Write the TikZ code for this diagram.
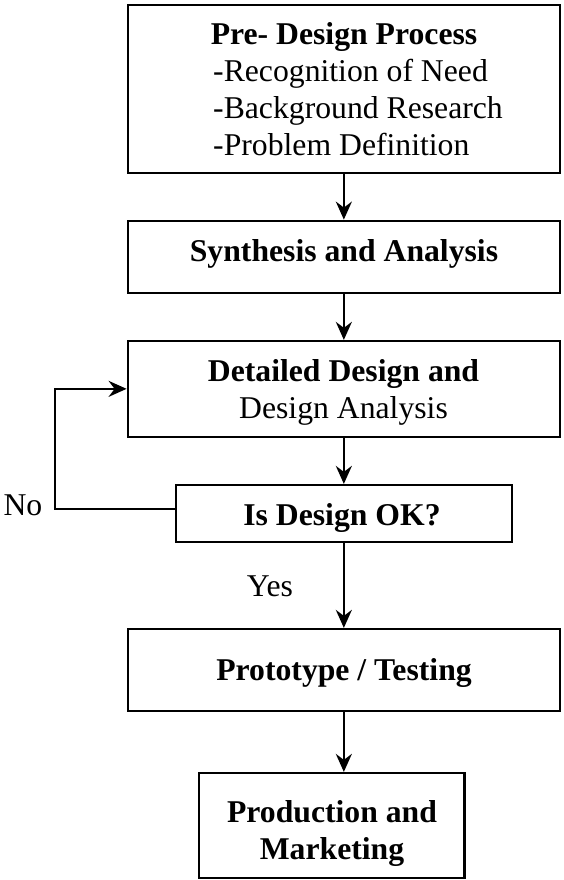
\documentclass[tikz,border=0pt]{standalone}
\usepackage{fontspec}
\setmainfont{Liberation Serif}
\usetikzlibrary{arrows.meta}
\begin{document}
\begin{tikzpicture}[x=1pt,y=-1pt,
  box/.style={draw, line width=2.2pt, inner sep=0pt},
  txt/.style={inner sep=0pt, anchor=base, font=\fontsize{31.7}{37}\selectfont},
  link/.style={line width=2.2pt, -{Stealth[length=18pt,width=16pt,inset=6pt]}}]
\useasboundingbox (0,0) rectangle (563,880);

% process boxes
\node[box, minimum width=432.3pt, minimum height=168pt]  (pre)   at (343.85,89)     {};
\node[box, minimum width=432.3pt, minimum height=72pt]   (syn)   at (343.85,256.7)  {};
\node[box, minimum width=432.3pt, minimum height=95.7pt] (det)   at (343.85,388.85) {};
\node[box, minimum width=335.6pt, minimum height=56.7pt] (ok)    at (343.85,513.35) {};
\node[box, minimum width=432.3pt, minimum height=81.7pt] (proto) at (343.85,669.85) {};
\node[box, minimum width=265.2pt, minimum height=105.3pt](prod)  at (331.9,825.65)  {};

% box texts
\node[txt] (preT) at (344,45) {\bfseries Pre- Design Process};
\node[txt, anchor=base west] (pre1) at (213,81.7)  {-Recognition of Need};
\node[txt, anchor=base west] (pre2) at (213,118.3) {-Background Research};
\node[txt, anchor=base west] (pre3) at (213,155.7) {-Problem Definition};
\node[txt] (synT)   at (344,261)   {\bfseries Synthesis and Analysis};
\node[txt] (detT1)  at (343.5,381.7) {\bfseries Detailed Design and};
\node[txt] (detT2)  at (343.5,418.3) {Design Analysis};
\node[txt] (okT)    at (342,525)   {\bfseries Is Design OK?};
\node[txt] (protoT) at (344,680)   {\bfseries Prototype / Testing};
\node[txt] (prodT1) at (332,822)   {\bfseries Production and};
\node[txt] (prodT2) at (332,859.5) {\bfseries Marketing};

% decision labels
\node[txt, anchor=base west] (no)  at (3.3,515)   {No};
\node[txt, anchor=base west] (yes) at (246.7,596) {Yes};

% connectors
\draw[link] (pre.south)   -- (syn.north);
\draw[link] (syn.south)   -- (det.north);
\draw[link] (det.south)   -- (ok.north);
\draw[link] (ok.south)    -- (proto.north);
\draw[link] (proto.south) -- (proto.south |- prod.north);
% "No" branch loops back to the detailed design step
\draw[link] ([yshift=4.6pt]ok.west) -- ++(-120,0) |- (det.west);
\end{tikzpicture}
\end{document}
